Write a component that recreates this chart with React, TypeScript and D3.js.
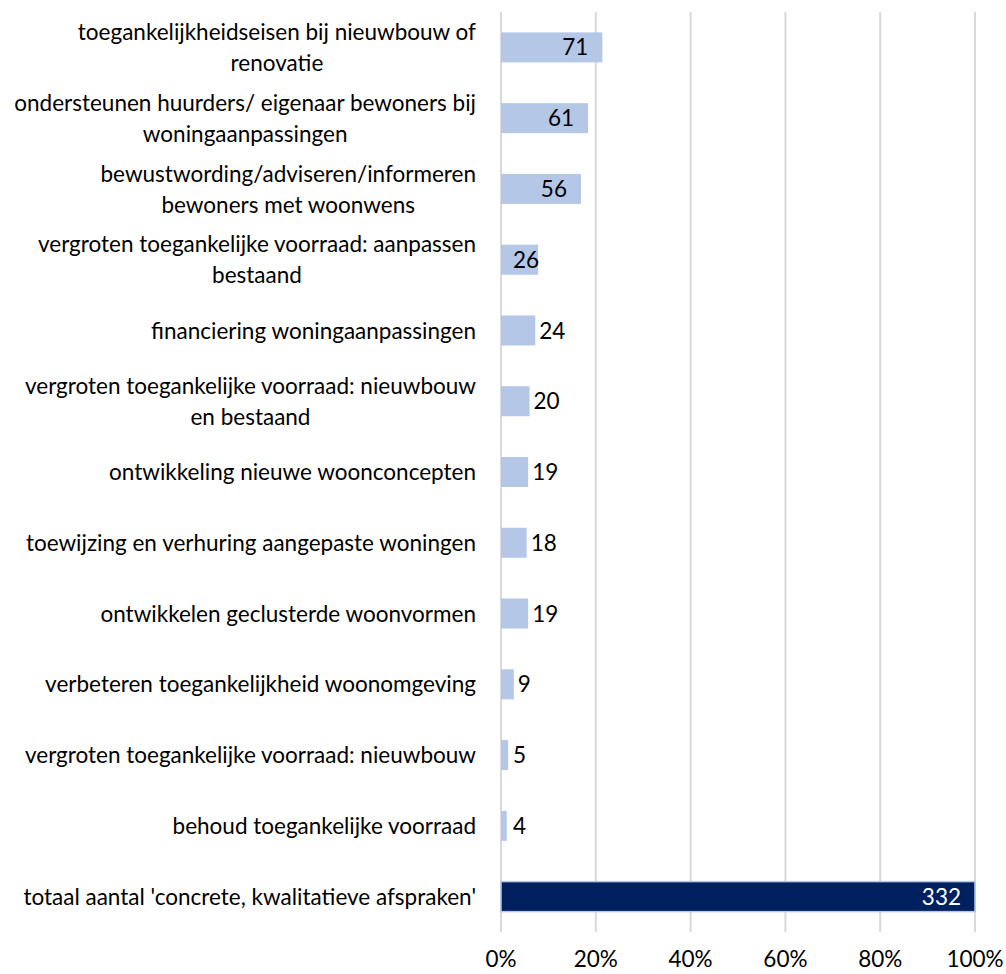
import React, { useEffect, useRef } from "react";
import * as d3 from "d3";

const categories: string[][] = [
  ["toegankelijkheidseisen bij nieuwbouw of", "renovatie"],
  ["ondersteunen huurders/ eigenaar bewoners bij", "woningaanpassingen"],
  ["bewustwording/adviseren/informeren", "bewoners met woonwens"],
  ["vergroten toegankelijke voorraad: aanpassen", "bestaand"],
  ["financiering woningaanpassingen"],
  ["vergroten toegankelijke voorraad: nieuwbouw", "en bestaand"],
  ["ontwikkeling nieuwe woonconcepten"],
  ["toewijzing en verhuring aangepaste woningen"],
  ["ontwikkelen geclusterde woonvormen"],
  ["verbeteren toegankelijkheid woonomgeving"],
  ["vergroten toegankelijke voorraad: nieuwbouw"],
  ["behoud toegankelijke voorraad"],
  ["totaal aantal 'concrete, kwalitatieve afspraken'"],
];
const counts: number[] = [71, 61, 56, 26, 24, 20, 19, 18, 19, 9, 5, 4, 332];
const total = 332;
const xTicks: number[] = [0, 0.2, 0.4, 0.6, 0.8, 1.0];

const W = 1006;
const H = 974;
const FONT = "Lato, 'Open Sans', sans-serif";
const FS = 22.5;

export default function App() {
  const ref = useRef<SVGSVGElement | null>(null);
  useEffect(() => {
    const svg = d3.select(ref.current);
    svg.selectAll("*").remove();
    const x0 = 501, x1 = 975, yTop = 12, yBot = 932;
    const x = d3.scaleLinear().domain([0, 1]).range([x0, x1]);
    const y = d3
      .scaleBand<number>()
      .domain(d3.range(counts.length))
      .range([yTop, yBot])
      .paddingInner(0.576)
      .paddingOuter(0.288);

    svg
      .append("g")
      .selectAll("line")
      .data(xTicks)
      .join("line")
      .attr("x1", (d) => x(d))
      .attr("x2", (d) => x(d))
      .attr("y1", yTop)
      .attr("y2", yBot)
      .attr("stroke", "#d9d9d9")
      .attr("stroke-width", 2);

    svg
      .append("g")
      .selectAll("text")
      .data(xTicks)
      .join("text")
      .attr("x", (d) => x(d))
      .attr("y", 967)
      .attr("text-anchor", "middle")
      .attr("font-family", FONT)
      .attr("font-size", FS)
      .attr("fill", "#000")
      .text((d) => d3.format(".0%")(d));

    const last = counts.length - 1;
    svg
      .append("g")
      .selectAll("rect")
      .data(counts)
      .join("rect")
      .attr("x", x0)
      .attr("y", (_, i) => y(i)!)
      .attr("width", (d) => x(d / total) - x0)
      .attr("height", y.bandwidth())
      .attr("fill", (_, i) => (i === last ? "#002060" : "#b4c7e7"))
      .attr("stroke", (_, i) => (i === last ? "#b4c7e7" : "none"))
      .attr("stroke-width", 1.5);

    const lg = svg.append("g");
    counts.forEach((v, i) => {
      const end = x(v / total);
      const cy = y(i)! + y.bandwidth() / 2;
      const t = lg
        .append("text")
        .attr("y", cy)
        .attr("dy", "0.36em")
        .attr("font-family", FONT)
        .attr("font-size", FS)
        .attr("fill", i === last ? "#fff" : "#000")
        .text(String(v));
      const w = (t.node() as SVGTextElement).getComputedTextLength();
      if (v > 25) {
        const right = Math.max(end - 14, x0 + 12 + w);
        t.attr("x", right).attr("text-anchor", "end");
      } else {
        const left = Math.max(end + 4, x0 + 12);
        t.attr("x", left).attr("text-anchor", "start");
      }
    });

    const cg = svg.append("g");
    const rightEdge = 476;
    const lineH = 31;
    categories.forEach((lines, i) => {
      const cy = y(i)! + y.bandwidth() / 2;
      const t = cg
        .append("text")
        .attr("font-family", FONT)
        .attr("font-size", FS)
        .attr("fill", "#000");
      lines.forEach((ln, j) => {
        t.append("tspan")
          .attr("y", cy + (j - (lines.length - 1) / 2) * lineH)
          .attr("dy", "0.36em")
          .text(ln);
      });
      const spans = t.selectAll<SVGTSpanElement, unknown>("tspan").nodes();
      const maxW = d3.max(spans, (s) => s.getComputedTextLength()) || 0;
      if (lines.length === 1) {
        t.attr("text-anchor", "end");
        t.selectAll("tspan").attr("x", rightEdge);
      } else {
        t.attr("text-anchor", "middle");
        t.selectAll("tspan").attr("x", rightEdge - maxW / 2);
      }
    });
  }, []);

  return (
    <svg
      ref={ref}
      width={W}
      height={H}
      style={{ position: "absolute", left: 0, top: 0, background: "#fff" }}
    />
  );
}
